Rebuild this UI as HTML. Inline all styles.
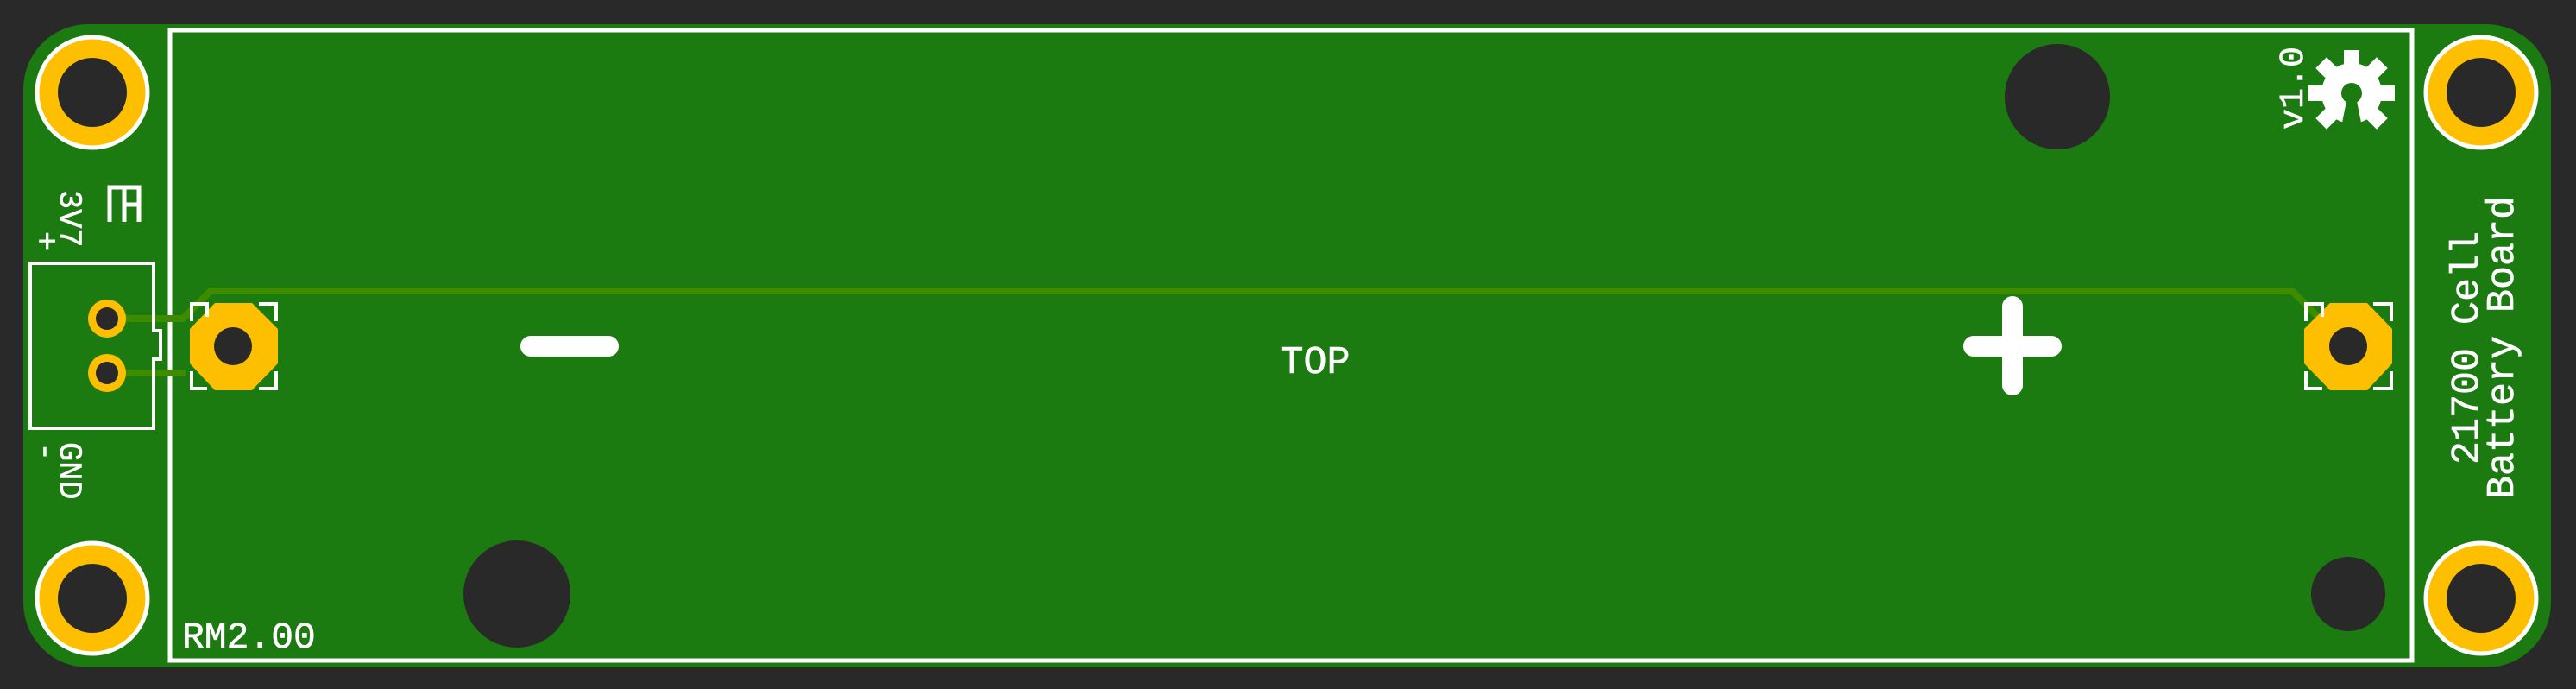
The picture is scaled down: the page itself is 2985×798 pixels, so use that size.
<!DOCTYPE html>
<html><head><meta charset="utf-8"><style>
html,body{margin:0;padding:0;background:#292929;}
svg{display:block;}
text{font-family:"Liberation Mono",monospace;fill:#fff;stroke:#fff;stroke-width:0.6;}
</style></head><body>
<svg width="2985" height="798" viewBox="0 0 2985 798" xmlns="http://www.w3.org/2000/svg">
<rect x="0" y="0" width="2985" height="798" fill="#292929"/>
<rect x="27" y="28" width="2929" height="745" rx="75" ry="75" fill="#1b7a10"/>
<rect x="197" y="35" width="2598" height="730" fill="none" stroke="#fff" stroke-width="5"/>
<polyline points="124,369 212,369 244,337 2656,337 2690,371" fill="none" stroke="#3d8c00" stroke-width="8"/>
<polyline points="124,432 215,432" fill="none" stroke="#3d8c00" stroke-width="8"/>
<g><circle cx="107" cy="107" r="64" fill="#fdbf00" stroke="#fff" stroke-width="5"/><circle cx="107" cy="107" r="40" fill="#292929"/></g>
<g><circle cx="107" cy="693" r="64" fill="#fdbf00" stroke="#fff" stroke-width="5"/><circle cx="107" cy="693" r="40" fill="#292929"/></g>
<g><circle cx="2875" cy="107" r="64" fill="#fdbf00" stroke="#fff" stroke-width="5"/><circle cx="2875" cy="107" r="40" fill="#292929"/></g>
<g><circle cx="2875" cy="693" r="64" fill="#fdbf00" stroke="#fff" stroke-width="5"/><circle cx="2875" cy="693" r="40" fill="#292929"/></g>
<path d="M35,305 L178,305 L178,383 L186,383 L186,416 L178,416 L178,496 L35,496 Z" fill="none" stroke="#fff" stroke-width="4"/>
<g><circle cx="124" cy="369" r="22" fill="#fdbf00"/><circle cx="124" cy="369" r="13" fill="#292929"/></g>
<g><circle cx="124" cy="432" r="22" fill="#fdbf00"/><circle cx="124" cy="432" r="13" fill="#292929"/></g>
<g>
<polygon points="249,351 292,351 322,381 322,421 292,452 249,452 220,421 220,381" fill="#fdbf00"/>
<circle cx="270" cy="401" r="22" fill="#292929"/>
<path d="M240,367 V352 H222 V372 M300,352 H320 V372 M320,430 V450 H300 M240,450 H222 V430" fill="none" stroke="#fff" stroke-width="4"/>
</g>
<g>
<polygon points="2700,351 2743,351 2772,381 2772,421 2743,452 2700,452 2670,421 2670,381" fill="#fdbf00"/>
<circle cx="2721" cy="401" r="22" fill="#292929"/>
<path d="M2691,367 V352 H2672 V372 M2750,352 H2771 V372 M2771,430 V450 H2750 M2691,450 H2672 V430" fill="none" stroke="#fff" stroke-width="4"/>
</g>
<circle cx="2384" cy="112" r="61" fill="#292929"/>
<circle cx="599" cy="688" r="62" fill="#292929"/>
<circle cx="2721" cy="688" r="43" fill="#292929"/>
<line x1="615" y1="401" x2="705" y2="401" stroke="#fff" stroke-width="24" stroke-linecap="round"/>
<g>
<line x1="2287" y1="401" x2="2377" y2="401" stroke="#fff" stroke-width="24" stroke-linecap="round"/>
<line x1="2332" y1="355" x2="2332" y2="446" stroke="#fff" stroke-width="24" stroke-linecap="round"/>
</g>
<text x="1524" y="432" font-size="45" text-anchor="middle">TOP</text>
<text x="211" y="750" font-size="43">RM2.00</text>
<text transform="translate(2871,538) rotate(-90)" font-size="45">21700 Cell</text>
<text transform="translate(2912,578) rotate(-90)" font-size="45">Battery Board</text>
<text transform="translate(2668,150) rotate(-90)" font-size="40">v1.0</text>
<text transform="translate(70,220) rotate(90)" font-size="37">3V7</text>
<text transform="translate(42,268) rotate(90)" font-size="37">+</text>
<text transform="translate(70,512) rotate(90)" font-size="37">GND</text>
<text transform="translate(42,512) rotate(90)" font-size="37">-</text>
<path d="M127,257 V217 H161 V257 M144,217 V257 M144,237 H161" fill="none" stroke="#fff" stroke-width="5"/>
<g fill="#fff">
<circle cx="2725" cy="108" r="35"/>
<rect x="2716" y="58" width="18" height="100" transform="rotate(0 2725 108)"/>
<rect x="2716" y="58" width="18" height="100" transform="rotate(45 2725 108)"/>
<rect x="2716" y="58" width="18" height="100" transform="rotate(90 2725 108)"/>
<rect x="2716" y="58" width="18" height="100" transform="rotate(135 2725 108)"/>
<circle cx="2725" cy="108" r="12" fill="#1b7a10"/>
<polygon points="2720,112 2730,112 2740,162 2710,162" fill="#1b7a10"/>
</g>
</svg>
</body></html>
